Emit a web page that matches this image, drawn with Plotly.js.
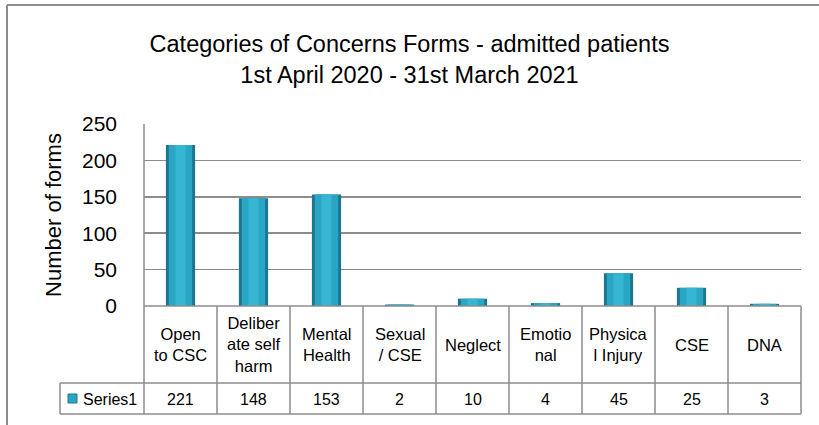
<!DOCTYPE html>
<html>
<head>
<meta charset="utf-8">
<script src="https://cdn.plot.ly/plotly-3.0.1.min.js"></script>
<style>html,body{margin:0;padding:0;background:#fff;}#chart{width:819px;height:425px;}</style>
</head>
<body>
<div id="chart"></div>
<script>
// ---- data ----
var categories = ["Open to CSC", "Deliberate self harm", "Mental Health", "Sexual / CSE", "Neglect", "Emotional", "Physical Injury", "CSE", "DNA"];
var categoryLabels = ["Open<br>to CSC", "Deliber<br>ate self<br>harm", "Mental<br>Health", "Sexual<br>/ CSE", "Neglect", "Emotio<br>nal", "Physica<br>l Injury", "CSE", "DNA"];
var seriesName = "Series1";
var values = [221, 148, 153, 2, 10, 4, 45, 25, 3];
var titleText = "Categories of Concerns Forms - admitted patients<br>1st April 2020 - 31st March 2021";
var yTitle = "Number of forms";

// ---- layout geometry (pixels) ----
var W = 819, H = 425;
var L = 144, R = 801, T = 124, B = 306;
var pw = R - L, ph = B - T;
function px(x) { return (x - L) / pw; }
function py(y) { return (B - y) / ph; }

var FONT = "Liberation Sans, Arial, sans-serif";
var GRID = "#8c8c8c";
var rowHead = 383, rowEnd = 414, keyLeft = 60;

var traces = [
  {type: 'bar', x: categories, y: values, width: 0.40, marker: {color: '#1c7690', line: {width: 0}}, hoverinfo: 'skip', showlegend: false},
  {type: 'bar', x: categories, y: values, width: 0.32, marker: {color: '#2aa6c4', line: {width: 0}}, hoverinfo: 'skip', showlegend: false},
  {type: 'bar', x: categories, y: values, width: 0.14, marker: {color: '#36b6d3', line: {width: 0}}, hoverinfo: 'skip', showlegend: false}
];

var shapes = [];
var annotations = [];
// outer chart border (left and top)
shapes.push({type: 'line', xref: 'paper', yref: 'paper', x0: px(7), x1: px(7), y0: py(5), y1: py(440), line: {color: GRID, width: 2}});
shapes.push({type: 'line', xref: 'paper', yref: 'paper', x0: px(7), x1: px(830), y0: py(5), y1: py(5), line: {color: GRID, width: 2}});
// table horizontal lines
shapes.push({type: 'line', xref: 'paper', yref: 'paper', x0: 0, x1: 1, y0: 0, y1: 0, line: {color: GRID, width: 1.5}});
shapes.push({type: 'line', xref: 'paper', yref: 'paper', x0: px(keyLeft), x1: 1, y0: py(rowHead), y1: py(rowHead), line: {color: GRID, width: 1.5}});
shapes.push({type: 'line', xref: 'paper', yref: 'paper', x0: px(keyLeft), x1: 1, y0: py(rowEnd), y1: py(rowEnd), line: {color: GRID, width: 1.5}});
// vertical lines
shapes.push({type: 'line', xref: 'paper', yref: 'paper', x0: 0, x1: 0, y0: 1, y1: py(rowEnd), line: {color: GRID, width: 1.5}});
shapes.push({type: 'line', xref: 'paper', yref: 'paper', x0: px(keyLeft), x1: px(keyLeft), y0: py(rowHead), y1: py(rowEnd), line: {color: GRID, width: 1.5}});
for (var i = 1; i <= categories.length; i++) {
  var xf = i / categories.length;
  shapes.push({type: 'line', xref: 'paper', yref: 'paper', x0: xf, x1: xf, y0: 0, y1: py(rowEnd), line: {color: GRID, width: 1.5}});
}
// legend key
shapes.push({type: 'rect', xref: 'paper', yref: 'paper', x0: px(68), x1: px(77), y0: py(394), y1: py(403), fillcolor: '#2aa6c4', line: {color: '#1c7690', width: 1}});
annotations.push({xref: 'paper', yref: 'paper', x: px(81), y: py(399), xanchor: 'left', yanchor: 'middle', text: seriesName, showarrow: false, font: {family: FONT, size: 16, color: '#000'}});

for (var j = 0; j < categories.length; j++) {
  annotations.push({xref: 'x', yref: 'paper', x: categories[j], y: py((B + rowHead) / 2), xanchor: 'center', yanchor: 'middle', text: categoryLabels[j], showarrow: false, font: {family: FONT, size: 16.5, color: '#000'}});
  annotations.push({xref: 'x', yref: 'paper', x: categories[j], y: py((rowHead + rowEnd) / 2 + 0.5), xanchor: 'center', yanchor: 'middle', text: String(values[j]), showarrow: false, font: {family: FONT, size: 16, color: '#000'}});
}

var layout = {
  width: W, height: H,
  margin: {l: L, r: W - R, t: T, b: H - B, pad: 0},
  paper_bgcolor: '#fff', plot_bgcolor: '#fff',
  barmode: 'overlay',
  showlegend: false,
  title: {text: titleText, x: 0.5, xref: 'container', xanchor: 'center', y: 1 - 52 / H, yref: 'container', yanchor: 'top', font: {family: FONT, size: 23.5, color: '#000'}},
  xaxis: {type: 'category', range: [-0.5, categories.length - 0.5], showticklabels: false, showgrid: false, zeroline: false, showline: false, ticks: ''},
  yaxis: {range: [0, 250], dtick: 50, showgrid: true, gridcolor: GRID, gridwidth: 1.5, zeroline: false, showline: false, ticks: '', ticklabelstandoff: 26, tickfont: {family: FONT, size: 21, color: '#000'},
          title: {text: yTitle, standoff: 14, font: {family: FONT, size: 22, color: '#000'}}},
  shapes: shapes,
  annotations: annotations,
  hovermode: false
};

Plotly.newPlot('chart', traces, layout, {displayModeBar: false, staticPlot: true});
</script>
</body>
</html>
